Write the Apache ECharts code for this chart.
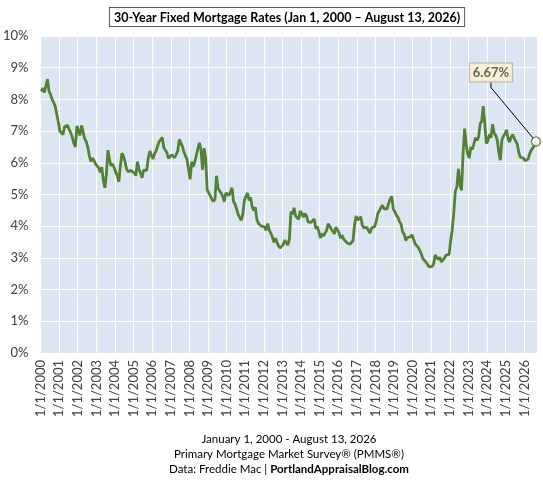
<!DOCTYPE html>
<html>
<head>
<meta charset="utf-8">
<script src="https://cdn.jsdelivr.net/npm/echarts@6/dist/echarts.min.js"></script>
<style>
  html, body { margin: 0; padding: 0; background: #fff; }
  #chart1 { width: 543px; height: 480px; }
</style>
</head>
<body>
<div id="chart1"></div>
<script>
// monthly 30-year fixed rates (%)
var years = [2000, 2001, 2002, 2003, 2004, 2005, 2006, 2007, 2008, 2009, 2010, 2011, 2012,
  2013, 2014, 2015, 2016, 2017, 2018, 2019, 2020, 2021, 2022, 2023, 2024, 2025, 2026];
var r2000 = [8.25, 8.36, 8.22, 8.20, 8.64, 8.25, 8.15, 8.00, 7.90, 7.78, 7.73, 7.28];
var r2001 = [7.00, 7.05, 6.89, 7.14, 7.16, 7.18, 7.05, 6.95, 6.80, 6.62, 6.50, 7.16];
var r2002 = [7.00, 6.86, 7.18, 6.97, 6.76, 6.67, 6.49, 6.22, 6.04, 6.15, 6.07, 5.96];
var r2003 = [5.91, 5.84, 5.70, 5.86, 5.45, 5.21, 5.63, 6.40, 6.10, 5.90, 5.97, 5.85];
var r2004 = [5.70, 5.60, 5.40, 5.90, 6.30, 6.21, 6.03, 5.80, 5.72, 5.68, 5.76, 5.70];
var r2005 = [5.67, 5.60, 6.04, 5.80, 5.67, 5.53, 5.77, 5.80, 5.76, 6.15, 6.37, 6.24];
var r2006 = [6.12, 6.28, 6.37, 6.53, 6.67, 6.73, 6.80, 6.48, 6.40, 6.32, 6.14, 6.16];
var r2007 = [6.25, 6.22, 6.16, 6.17, 6.37, 6.74, 6.69, 6.52, 6.34, 6.33, 6.10, 6.14];
var r2008 = [5.48, 6.04, 5.87, 6.03, 6.08, 6.45, 6.63, 6.40, 5.78, 6.46, 6.14, 5.14];
var r2009 = [5.05, 5.04, 4.85, 4.78, 4.86, 5.59, 5.20, 5.22, 5.04, 4.94, 4.78, 5.05];
var r2010 = [5.09, 4.97, 5.08, 5.21, 4.78, 4.69, 4.54, 4.36, 4.32, 4.19, 4.39, 4.83];
var r2011 = [4.80, 5.05, 4.81, 4.91, 4.61, 4.50, 4.60, 4.22, 4.09, 4.10, 4.00, 3.94];
var r2012 = [3.98, 3.87, 4.08, 3.88, 3.78, 3.66, 3.49, 3.62, 3.49, 3.38, 3.31, 3.35];
var r2013 = [3.42, 3.56, 3.57, 3.40, 3.59, 4.46, 4.37, 4.58, 4.32, 4.28, 4.22, 4.48];
var r2014 = [4.41, 4.28, 4.40, 4.33, 4.14, 4.17, 4.12, 4.10, 4.23, 3.92, 3.99, 3.83];
var r2015 = [3.63, 3.76, 3.69, 3.65, 3.87, 4.08, 4.04, 3.91, 3.86, 3.76, 3.97, 4.01];
var r2016 = [3.79, 3.62, 3.71, 3.59, 3.64, 3.48, 3.42, 3.43, 3.47, 3.54, 4.03, 4.32];
var r2017 = [4.19, 4.17, 4.30, 4.03, 3.95, 3.89, 3.96, 3.86, 3.78, 3.94, 3.90, 3.99];
var r2018 = [4.15, 4.40, 4.45, 4.58, 4.66, 4.55, 4.52, 4.55, 4.72, 4.86, 4.94, 4.55];
var r2019 = [4.45, 4.35, 4.28, 4.14, 4.07, 3.82, 3.75, 3.55, 3.64, 3.69, 3.66, 3.73];
var r2020 = [3.60, 3.45, 3.50, 3.33, 3.24, 3.13, 2.98, 2.94, 2.87, 2.80, 2.72, 2.67];
var r2021 = [2.73, 2.81, 3.09, 3.02, 2.95, 3.02, 2.87, 2.84, 2.99, 3.09, 3.10, 3.11];
var r2022 = [3.55, 3.89, 4.42, 5.10, 5.25, 5.81, 5.30, 5.13, 6.29, 7.08, 6.58, 6.27];
var r2023 = [6.15, 6.50, 6.42, 6.39, 6.79, 6.71, 6.81, 7.23, 7.31, 7.79, 7.22, 6.61];
var r2024 = [6.69, 6.90, 6.79, 7.22, 6.94, 6.86, 6.73, 6.35, 6.08, 6.72, 6.84, 6.91];
var r2025 = [7.04, 6.76, 6.65, 6.81, 6.89, 6.77, 6.72, 6.58, 6.30, 6.17, 6.23, 6.15];
var r2026 = [6.06, 6.01, 6.12, 6.30, 6.40, 6.45, 6.55, 6.67];
var rateRows = [r2000, r2001, r2002, r2003, r2004, r2005, r2006, r2007, r2008, r2009,
  r2010, r2011, r2012, r2013, r2014, r2015, r2016, r2017, r2018, r2019, r2020, r2021,
  r2022, r2023, r2024, r2025, r2026];
var yTicks = [0, 1, 2, 3, 4, 5, 6, 7, 8, 9, 10];

var points = [];
rateRows.forEach(function (row, yi) {
  row.forEach(function (v, m) {
    points.push([years[yi] + m / 12 + 1 / 24, v]);
  });
});
var lastPoint = points[points.length - 1];

var dom = document.getElementById('chart1');
var myChart = echarts.init(dom, null, { renderer: 'canvas' });

var option = {
  animation: false,
  textStyle: { fontFamily: 'Lato' },
  grid: {
    left: 38.5,
    right: 6,
    top: 36,
    bottom: 127,
    show: true,
    backgroundColor: '#DCE6F2',
    borderWidth: 0
  },
  xAxis: {
    type: 'value',
    min: years[0],
    max: 2026.68,
    interval: 1,
    axisLine: { show: false },
    axisTick: { show: false },
    splitLine: { show: true, lineStyle: { color: '#ffffff', width: 1 } },
    axisLabel: {
      rotate: 90,
      margin: 7,
      color: '#404040',
      fontSize: 13,
      formatter: function (v) {
        return Number.isInteger(v) ? '1/1/' + v : '';
      }
    }
  },
  yAxis: {
    type: 'value',
    min: yTicks[0],
    max: yTicks[yTicks.length - 1],
    interval: 1,
    axisLine: { show: false },
    axisTick: { show: false },
    splitLine: { show: true, lineStyle: { color: '#ffffff', width: 1 } },
    axisLabel: {
      margin: 12,
      color: '#404040',
      fontSize: 13,
      formatter: '{value}%'
    }
  },
  series: [
    {
      type: 'line',
      data: points,
      showSymbol: false,
      lineStyle: { color: '#548235', width: 2.8 },
      z: 2
    },
    {
      type: 'scatter',
      data: [lastPoint],
      symbol: 'circle',
      symbolSize: 9,
      itemStyle: { color: '#ffffff', borderColor: '#548235', borderWidth: 1.5 },
      z: 3,
      label: {
        show: true,
        position: 'inside',
        formatter: function (p) { return p.value[1].toFixed(2) + '%'; },
        fontSize: 13,
        fontWeight: 'bold',
        color: '#404040',
        backgroundColor: '#FFF2CC',
        borderColor: '#A6A6A6',
        borderWidth: 1,
        borderRadius: 0,
        padding: [3, 3, 2, 3]
      },
      labelLayout: { dx: -45, dy: -69 },
      labelLine: {
        show: true,
        length2: 5,
        lineStyle: { color: '#000000', width: 1 }
      }
    }
  ],
  graphic: [
    {
      type: 'text',
      x: 287,
      y: 8,
      style: {
        text: '30-Year Fixed Mortgage Rates (Jan 1, 2000 \u2013 August 13, 2026)',
        font: 'bold 12.5px Lato',
        fill: '#000000',
        align: 'center',
        backgroundColor: '#ffffff',
        borderColor: '#595959',
        borderWidth: 1,
        padding: [3, 4, 2, 4]
      }
    },
    {
      type: 'text',
      x: 289,
      y: 433,
      style: {
        text: 'January 1, 2000 - August 13, 2026',
        font: '11.5px Lato',
        fill: '#000000',
        align: 'center'
      }
    },
    {
      type: 'text',
      x: 289,
      y: 448,
      style: {
        text: 'Primary Mortgage Market Survey\u00ae (PMMS\u00ae)',
        font: '11.5px Lato',
        fill: '#000000',
        align: 'center'
      }
    },
    {
      type: 'text',
      x: 289,
      y: 463,
      style: {
        text: '{a|Data: Freddie Mac | }{b|PortlandAppraisalBlog.com}',
        align: 'center',
        rich: {
          a: { fontFamily: 'Lato', fontSize: 11.5, color: '#000000' },
          b: { fontFamily: 'Lato', fontSize: 11.5, fontWeight: 'bold', color: '#000000' }
        }
      }
    }
  ]
};

myChart.setOption(option);
window.addEventListener('resize', myChart.resize);
</script>
</body>
</html>
